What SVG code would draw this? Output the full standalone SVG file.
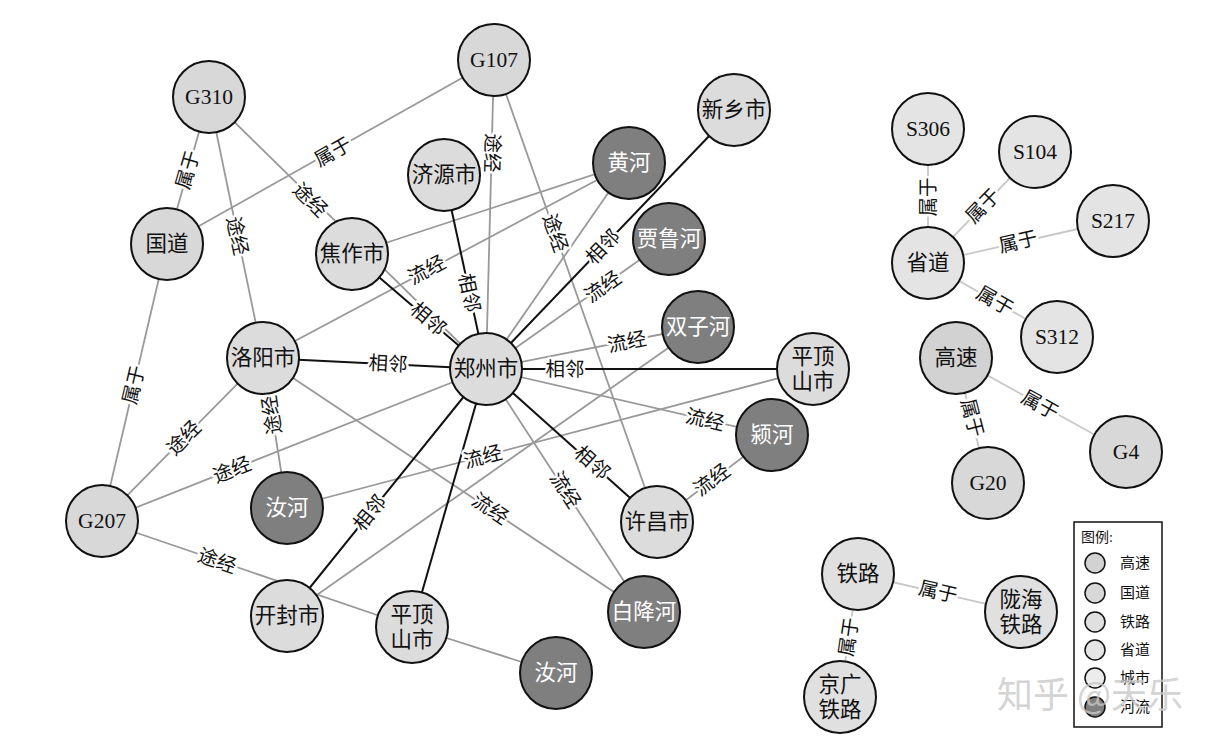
<svg xmlns="http://www.w3.org/2000/svg" width="1216" height="745" viewBox="0 0 1216 745">
<style>
.n{stroke:#111;stroke-width:2}
.c{fill:#dcdcdc}
.g{fill:#d8d8d8}
.gs{fill:#d2d2d2}
.s{fill:#e4e4e4}
.t{fill:#e0e0e0}
.r{fill:#7f7f7f}
.nt{font-family:"Liberation Serif","Noto Sans CJK SC",serif;font-size:21.5px;text-anchor:middle;dominant-baseline:central;fill:#111}
.rt{fill:#fff}
.eg{stroke:#999;stroke-width:1.8;fill:none}
.eb{stroke:#111;stroke-width:2;fill:none}
.el{stroke:#c8c8c8;stroke-width:1.8;fill:none}
.lb{font-family:"Liberation Serif","Noto Sans CJK SC",serif;font-size:19.5px;text-anchor:middle;dominant-baseline:central;fill:#111;stroke:#fff;stroke-width:5;paint-order:stroke;stroke-linejoin:round}
.lg{font-family:"Liberation Serif","Noto Sans CJK SC",serif;font-size:15px;fill:#111;dominant-baseline:central}
</style>
<rect width="1216" height="745" fill="#fff"/>
<g id="connectors">
<line class="eg" x1="209" y1="97" x2="167" y2="244"/>
<line class="eg" x1="167" y1="244" x2="494" y2="60"/>
<line class="eg" x1="209" y1="97" x2="263" y2="358"/>
<line class="eg" x1="209" y1="97" x2="486" y2="369"/>
<line class="eg" x1="167" y1="244" x2="102" y2="521"/>
<line class="eg" x1="102" y1="521" x2="263" y2="358"/>
<line class="eg" x1="102" y1="521" x2="486" y2="369"/>
<line class="eg" x1="102" y1="521" x2="412" y2="627"/>
<line class="eg" x1="263" y1="358" x2="287" y2="508"/>
<line class="eg" x1="263" y1="358" x2="644" y2="612"/>
<line class="eg" x1="263" y1="358" x2="629" y2="163"/>
<line class="eg" x1="352" y1="254" x2="629" y2="163"/>
<line class="eg" x1="486" y1="369" x2="629" y2="163"/>
<line class="eg" x1="486" y1="369" x2="669" y2="239"/>
<line class="eg" x1="486" y1="369" x2="698" y2="327"/>
<line class="eg" x1="698" y1="327" x2="287" y2="616"/>
<line class="eg" x1="486" y1="369" x2="772" y2="435"/>
<line class="eg" x1="657" y1="522" x2="772" y2="435"/>
<line class="eg" x1="486" y1="369" x2="644" y2="612"/>
<line class="eg" x1="494" y1="60" x2="486" y2="369"/>
<line class="eg" x1="494" y1="60" x2="657" y2="522"/>
<line class="eg" x1="813" y1="369" x2="287" y2="508"/>
<line class="eg" x1="412" y1="627" x2="556" y2="673"/>
<line class="eb" x1="263" y1="358" x2="486" y2="369"/>
<line class="eb" x1="352" y1="254" x2="486" y2="369"/>
<line class="eb" x1="444" y1="175" x2="486" y2="369"/>
<line class="eb" x1="734" y1="110" x2="486" y2="369"/>
<line class="eb" x1="486" y1="369" x2="813" y2="369"/>
<line class="eb" x1="486" y1="369" x2="657" y2="522"/>
<line class="eb" x1="287" y1="616" x2="486" y2="369"/>
<line class="eb" x1="412" y1="627" x2="486" y2="369"/>
<line class="el" x1="928" y1="129" x2="928" y2="263"/>
<line class="el" x1="928" y1="263" x2="1035" y2="152"/>
<line class="el" x1="928" y1="263" x2="1113" y2="221"/>
<line class="el" x1="928" y1="263" x2="1057" y2="337"/>
<line class="el" x1="956" y1="358" x2="1126" y2="452"/>
<line class="el" x1="956" y1="358" x2="988" y2="483"/>
<line class="el" x1="858" y1="574" x2="1021" y2="612"/>
<line class="el" x1="858" y1="574" x2="840" y2="697"/>
<text class="lb" transform="rotate(-74 188 170)" x="188" y="170">属于</text>
<text class="lb" transform="rotate(-29.4 333 152)" x="333" y="152">属于</text>
<text class="lb" transform="rotate(78 237 236)" x="237" y="236">途经</text>
<text class="lb" transform="rotate(44.7 310 200)" x="310" y="200">途经</text>
<text class="lb" transform="rotate(-76.8 134 385)" x="134" y="385">属于</text>
<text class="lb" transform="rotate(-45.4 184 438)" x="184" y="438">途经</text>
<text class="lb" transform="rotate(-21.7 232 470)" x="232" y="470">途经</text>
<text class="lb" transform="rotate(18.9 217 561)" x="217" y="561">途经</text>
<text class="lb" transform="rotate(-99 272 415)" x="272" y="415">途经</text>
<text class="lb" transform="rotate(33.7 490 509)" x="490" y="509">流经</text>
<text class="lb" transform="rotate(-28 427 270)" x="427" y="270">流经</text>
<text class="lb" transform="rotate(-35.4 603 287)" x="603" y="287">流经</text>
<text class="lb" transform="rotate(-11.2 627 342)" x="627" y="342">流经</text>
<text class="lb" transform="rotate(13 705 420)" x="705" y="420">流经</text>
<text class="lb" transform="rotate(-37 712 480)" x="712" y="480">流经</text>
<text class="lb" transform="rotate(57 565 490)" x="565" y="490">流经</text>
<text class="lb" transform="rotate(91.5 492 153)" x="492" y="153">途经</text>
<text class="lb" transform="rotate(70.6 555 233)" x="555" y="233">途经</text>
<text class="lb" transform="rotate(-14.6 483 457)" x="483" y="457">流经</text>
<text class="lb" transform="rotate(2.8 388 364)" x="388" y="364">相邻</text>
<text class="lb" transform="rotate(40.6 428 319)" x="428" y="319">相邻</text>
<text class="lb" transform="rotate(77.8 469 293)" x="469" y="293">相邻</text>
<text class="lb" transform="rotate(-46.2 603 247)" x="603" y="247">相邻</text>
<text class="lb" x="565" y="369">相邻</text>
<text class="lb" transform="rotate(41.8 592 463)" x="592" y="463">相邻</text>
<text class="lb" transform="rotate(-51 370 513)" x="370" y="513">相邻</text>
<text class="lb" transform="rotate(-90 928 197)" x="928" y="197">属于</text>
<text class="lb" transform="rotate(-46 983 206)" x="983" y="206">属于</text>
<text class="lb" transform="rotate(-12.8 1018 242)" x="1018" y="242">属于</text>
<text class="lb" transform="rotate(29.8 995 301)" x="995" y="301">属于</text>
<text class="lb" transform="rotate(29 1040 405)" x="1040" y="405">属于</text>
<text class="lb" transform="rotate(75.6 972 418)" x="972" y="418">属于</text>
<text class="lb" transform="rotate(13 938 592)" x="938" y="592">属于</text>
<text class="lb" transform="rotate(-81.7 849 637)" x="849" y="637">属于</text>
</g>
<g id="G310"><circle class="n g" cx="209" cy="97" r="36"/><text class="nt" x="209" y="97">G310</text></g>
<g id="G107"><circle class="n g" cx="494" cy="60" r="36"/><text class="nt" x="494" y="60">G107</text></g>
<g id="guodao"><circle class="n g" cx="167" cy="244" r="36"/><text class="nt" x="167" y="244">国道</text></g>
<g id="jiaozuo"><circle class="n c" cx="352" cy="254" r="36"/><text class="nt" x="352" y="254">焦作市</text></g>
<g id="jiyuan"><circle class="n c" cx="444" cy="175" r="36"/><text class="nt" x="444" y="175">济源市</text></g>
<g id="huanghe"><circle class="n r" cx="629" cy="163" r="36"/><text class="nt rt" x="629" y="163">黄河</text></g>
<g id="xinxiang"><circle class="n c" cx="734" cy="110" r="36"/><text class="nt" x="734" y="110">新乡市</text></g>
<g id="jialuhe"><circle class="n r" cx="669" cy="239" r="36"/><text class="nt rt" x="669" y="239">贾鲁河</text></g>
<g id="shuangzihe"><circle class="n r" cx="698" cy="327" r="36"/><text class="nt rt" x="698" y="327">双子河</text></g>
<g id="zhengzhou"><circle class="n c" cx="486" cy="369" r="36"/><text class="nt" x="486" y="369">郑州市</text></g>
<g id="luoyang"><circle class="n c" cx="263" cy="358" r="36"/><text class="nt" x="263" y="358">洛阳市</text></g>
<g id="pingdingshan1"><circle class="n c" cx="813" cy="369" r="36"/><text class="nt" x="813" y="357">平顶</text><text class="nt" x="813" y="382">山市</text></g>
<g id="yinghe"><circle class="n r" cx="772" cy="435" r="36"/><text class="nt rt" x="772" y="435">颍河</text></g>
<g id="xuchang"><circle class="n c" cx="657" cy="522" r="36"/><text class="nt" x="657" y="522">许昌市</text></g>
<g id="ruhe1"><circle class="n r" cx="287" cy="508" r="36"/><text class="nt rt" x="287" y="508">汝河</text></g>
<g id="G207"><circle class="n g" cx="102" cy="521" r="36"/><text class="nt" x="102" y="521">G207</text></g>
<g id="kaifeng"><circle class="n c" cx="287" cy="616" r="36"/><text class="nt" x="287" y="616">开封市</text></g>
<g id="pingdingshan2"><circle class="n c" cx="412" cy="627" r="36"/><text class="nt" x="412" y="615">平顶</text><text class="nt" x="412" y="640">山市</text></g>
<g id="ruhe2"><circle class="n r" cx="556" cy="673" r="36"/><text class="nt rt" x="556" y="673">汝河</text></g>
<g id="bajianghe"><circle class="n r" cx="644" cy="612" r="36"/><text class="nt rt" x="644" y="612">白降河</text></g>
<g id="S306"><circle class="n s" cx="928" cy="129" r="36"/><text class="nt" x="928" y="129">S306</text></g>
<g id="S104"><circle class="n s" cx="1035" cy="152" r="36"/><text class="nt" x="1035" y="152">S104</text></g>
<g id="S217"><circle class="n s" cx="1113" cy="221" r="36"/><text class="nt" x="1113" y="221">S217</text></g>
<g id="shengdao"><circle class="n s" cx="928" cy="263" r="36"/><text class="nt" x="928" y="263">省道</text></g>
<g id="S312"><circle class="n s" cx="1057" cy="337" r="36"/><text class="nt" x="1057" y="337">S312</text></g>
<g id="gaosu"><circle class="n gs" cx="956" cy="358" r="36"/><text class="nt" x="956" y="358">高速</text></g>
<g id="G4"><circle class="n g" cx="1126" cy="452" r="36"/><text class="nt" x="1126" y="452">G4</text></g>
<g id="G20"><circle class="n g" cx="988" cy="483" r="36"/><text class="nt" x="988" y="483">G20</text></g>
<g id="tielu"><circle class="n t" cx="858" cy="574" r="36"/><text class="nt" x="858" y="574">铁路</text></g>
<g id="longhai"><circle class="n t" cx="1021" cy="612" r="36"/><text class="nt" x="1021" y="600">陇海</text><text class="nt" x="1021" y="625">铁路</text></g>
<g id="jingguang"><circle class="n t" cx="840" cy="697" r="36"/><text class="nt" x="840" y="685">京广</text><text class="nt" x="840" y="710">铁路</text></g>
<g id="legend">
<rect x="1074" y="522" width="88" height="205" fill="#fff" stroke="#111" stroke-width="1.5"/>
<text class="lg" x="1081" y="537" style="font-size:14px">图例:</text>
<circle cx="1095" cy="563" r="10" fill="#d2d2d2" stroke="#111" stroke-width="1.5"/><text class="lg" x="1120" y="563">高速</text>
<circle cx="1095" cy="593" r="10" fill="#d8d8d8" stroke="#111" stroke-width="1.5"/><text class="lg" x="1120" y="593">国道</text>
<circle cx="1095" cy="622" r="10" fill="#e0e0e0" stroke="#111" stroke-width="1.5"/><text class="lg" x="1120" y="622">铁路</text>
<circle cx="1095" cy="650" r="10" fill="#e4e4e4" stroke="#111" stroke-width="1.5"/><text class="lg" x="1120" y="650">省道</text>
<circle cx="1095" cy="678" r="10" fill="#ececec" stroke="#111" stroke-width="1.5"/><text class="lg" x="1120" y="678">城市</text>
<circle cx="1095" cy="707" r="10" fill="#7f7f7f" stroke="#111" stroke-width="1.5"/><text class="lg" x="1120" y="707">河流</text>
</g>
<text x="1090" y="692" font-family="'Noto Sans CJK SC',sans-serif" font-size="36" text-anchor="middle" dominant-baseline="central" fill="#c8c8c8" fill-opacity="0.8">知乎 @天乐</text>
</svg>
